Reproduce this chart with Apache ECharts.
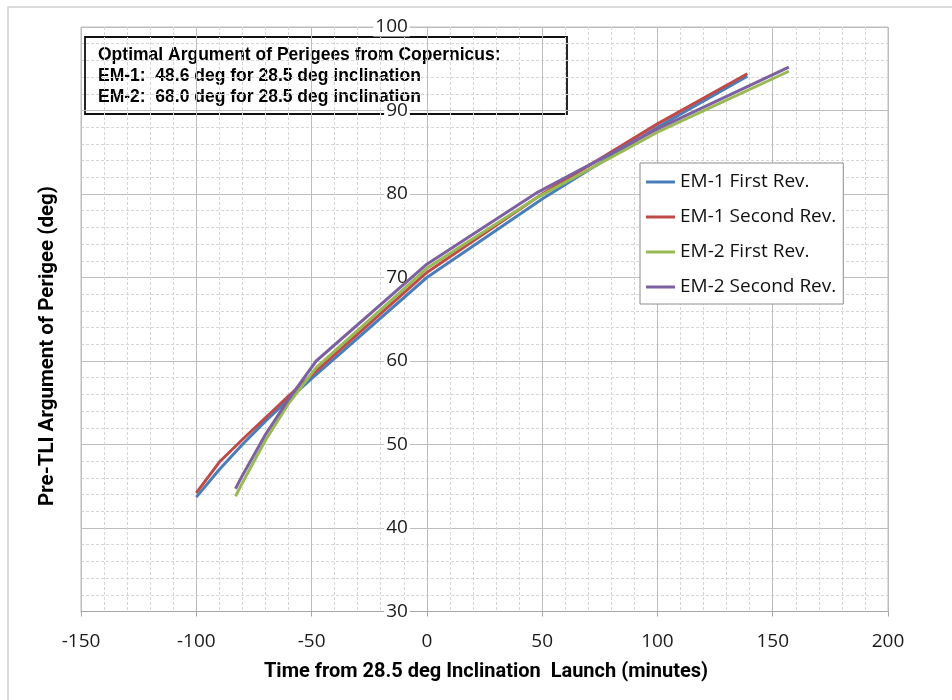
<!DOCTYPE html>
<html>
<head>
<meta charset="utf-8">
<title>Pre-TLI Argument of Perigee vs Launch Time</title>
<script src="https://cdn.jsdelivr.net/npm/echarts@6/dist/echarts.min.js"></script>
<style>
  html, body { margin: 0; padding: 0; background: #fff; }
  #chart { width: 952px; height: 700px; }
</style>
</head>
<body>
<div id="chart"></div>
<script>
// Launch-time offsets (minutes) and optimal perigee arguments (deg)
const em1Time = [-100, -90, -80, -70, -60, -50, 0, 50, 100, 139];
const em1First = [43.7, 47.0, 50.0, 52.8, 55.4, 57.9, 70.0, 79.4, 88.0, 94.1];
const em1Second = [44.2, 47.9, 50.6, 53.2, 55.8, 58.3, 70.6, 80.0, 88.4, 94.4];

const em2Time = [-83, -80, -70, -60, -48, 0, 48, 100, 157];
const em2First = [43.8, 45.4, 50.5, 54.9, 59.2, 71.1, 79.6, 87.4, 94.7];
const em2Second = [44.7, 46.3, 51.2, 55.4, 60.0, 71.6, 80.2, 87.8, 95.2];

const seriesNames = ['EM-1 First Rev.', 'EM-1 Second Rev.', 'EM-2 First Rev.', 'EM-2 Second Rev.'];
const seriesColors = ['#4A7EBB', '#BE4B48', '#98B954', '#7D60A0'];

const noteLines = [
  'Optimal Argument of Perigees from Copernicus:',
  'EM-1:  48.6 deg for 28.5 deg inclination',
  'EM-2:  68.0 deg for 28.5 deg inclination'
];
const xTitle = 'Time from 28.5 deg Inclination  Launch (minutes)';
const yTitle = 'Pre-TLI Argument of Perigee (deg)';

function pairs(xs, ys) {
  return xs.map((x, i) => [x, ys[i]]);
}

const seriesData = [
  pairs(em1Time, em1First),
  pairs(em1Time, em1Second),
  pairs(em2Time, em2First),
  pairs(em2Time, em2Second)
];

const chart = echarts.init(document.getElementById('chart'), null, { renderer: 'canvas' });

const labelFont = '"Open Sans", sans-serif';
const gridLeft = 81;
const minorLine = { show: true, lineStyle: { color: '#d6d6d6', width: 1, type: [3, 2] } };

chart.setOption({
  animation: false,
  backgroundColor: '#fff',
  grid: {
    left: gridLeft, top: 27, right: 64, bottom: 88.5,
    show: true, borderColor: '#bdbdbd', borderWidth: 1, backgroundColor: '#fff'
  },
  legend: {
    orient: 'vertical',
    left: 640, top: 163,
    padding: [9, 7, 7, 6],
    backgroundColor: '#fff',
    borderColor: '#8c8c8c',
    borderWidth: 1,
    borderRadius: 0,
    icon: 'rect',
    itemWidth: 29,
    itemHeight: 3,
    itemGap: 15,
    textStyle: { fontFamily: labelFont, fontSize: 19, color: '#111', lineHeight: 20 },
    data: seriesNames
  },
  xAxis: {
    type: 'value',
    min: -150, max: 200, interval: 50,
    axisLine: { show: true, onZero: false, lineStyle: { color: '#a6a6a6', width: 1 } },
    axisTick: { show: true, length: 5, lineStyle: { color: '#a6a6a6' } },
    axisLabel: { fontFamily: labelFont, fontSize: 19, color: '#1a1a1a', margin: 21 },
    splitLine: { show: true, lineStyle: { color: '#bdbdbd', width: 1 } },
    minorTick: { show: false, splitNumber: 5 },
    minorSplitLine: minorLine
  },
  yAxis: [
    {
      // gridlines and the vertical axis line
      type: 'value',
      min: 30, max: 100, interval: 10,
      axisLine: { show: true, onZero: false, lineStyle: { color: '#bdbdbd', width: 1 } },
      axisTick: { show: false },
      axisLabel: { show: false },
      splitLine: { show: true, lineStyle: { color: '#bdbdbd', width: 1 } },
      minorTick: { show: false, splitNumber: 5 },
      minorSplitLine: minorLine
    },
    {
      // tick labels drawn over the gridlines (below the curves) with a white backing
      type: 'value',
      position: 'left',
      z: 1,
      min: 30, max: 100, interval: 10,
      axisLine: { show: false, onZero: false },
      axisTick: { show: false },
      axisLabel: {
        fontFamily: labelFont, fontSize: 19, color: '#1a1a1a', margin: 17,
        backgroundColor: '#ffffff', padding: [0, 2, 0, 2]
      },
      splitLine: { show: false }
    }
  ],
  series: seriesNames.map((name, i) => ({
    name: name,
    type: 'line',
    data: seriesData[i],
    yAxisIndex: 0,
    symbol: 'none',
    smooth: false,
    z: 3 + i,
    color: seriesColors[i],
    lineStyle: { color: seriesColors[i], width: 3 }
  })),
  graphic: [
    {
      type: 'rect', z: -10, silent: true,
      shape: { x: 8, y: 7, width: 1000, height: 760 },
      style: { fill: null, stroke: '#cfcfcf', lineWidth: 1.5 }
    },
    {
      type: 'group', z: 100,
      children: [
        {
          type: 'rect',
          shape: { x: 85, y: 37, width: 482, height: 77 },
          style: { fill: '#fff', stroke: '#111', lineWidth: 1.8 }
        },
        {
          type: 'text',
          x: 98, y: 45,
          style: {
            text: noteLines.join('\n'),
            font: 'bold 17.5px "Liberation Sans", Arial, sans-serif',
            lineHeight: 20.7,
            fill: '#000',
            verticalAlign: 'top',
            align: 'left'
          }
        }
      ]
    },
    {
      type: 'text', z: 100,
      x: 486, y: 672,
      style: {
        text: xTitle,
        font: 'bold 20px Roboto, sans-serif',
        fill: '#000',
        align: 'center',
        verticalAlign: 'middle'
      }
    },
    {
      type: 'text', z: 100,
      x: 48, y: 346,
      rotation: Math.PI / 2,
      style: {
        text: yTitle,
        font: 'bold 20.5px Roboto, sans-serif',
        fill: '#000',
        align: 'center',
        verticalAlign: 'middle'
      }
    }
  ]
});

// Move both value axes (line and labels) onto the zero minute position of the time axis
const zeroX = chart.convertToPixel({ xAxisIndex: 0 }, 0);
const yOffset = -(zeroX - gridLeft);
chart.setOption({ yAxis: [{ offset: yOffset }, { offset: yOffset }] });
</script>
</body>
</html>
